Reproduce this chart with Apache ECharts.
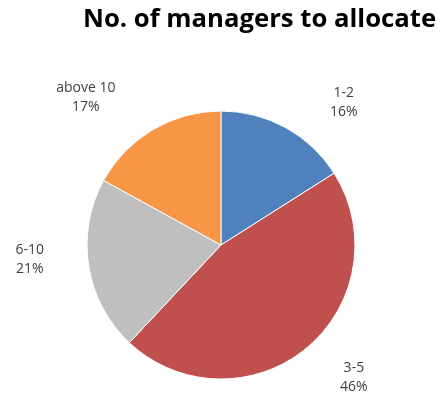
<!DOCTYPE html>
<html><head><meta charset="utf-8">
<script src="https://cdn.jsdelivr.net/npm/echarts@6/dist/echarts.min.js"></script>
<style>html,body{margin:0;padding:0;background:#fff}#c{width:442px;height:396px}</style>
</head><body><div id="c"></div>
<script>
const categories = ['1-2', '3-5', '6-10', 'above 10'];
const values = [16, 46, 21, 17];
const colors = ['#4F81BD', '#C0504D', '#BFBFBF', '#F79646'];
const titleText = 'No. of managers to allocate';

// label nudges (Excel "best fit" placement)
const labelNudge = [[23, 5], [7, 3], [-6, -12], [-15, -3]];

const chart = echarts.init(document.getElementById('c'), null, {renderer: 'canvas'});
chart.setOption({
  animation: false,
  title: {
    text: titleText,
    left: 78, top: 2,
    textStyle: {fontFamily: 'Open Sans', fontWeight: 'bold', fontSize: 25.7, color: '#000'}
  },
  series: [{
    type: 'pie',
    center: [221, 245],
    radius: 134,
    startAngle: 90,
    clockwise: true,
    data: categories.map((c, i) => ({name: c, value: values[i], itemStyle: {color: colors[i]}})),
    itemStyle: {borderColor: '#fff', borderWidth: 1},
    label: {
      position: 'outside',
      formatter: '{b}\n{d}%',
      fontFamily: 'Open Sans',
      fontSize: 14,
      lineHeight: 19,
      color: '#404040'
    },
    labelLine: {show: false, length: 34, length2: 0},
    labelLayout: function (p) {
      const r = p.labelRect;
      const n = labelNudge[p.dataIndex];
      return {x: r.x + r.width / 2 + n[0], y: r.y + r.height / 2 + n[1], align: 'center', verticalAlign: 'middle'};
    }
  }]
});
</script></body></html>
